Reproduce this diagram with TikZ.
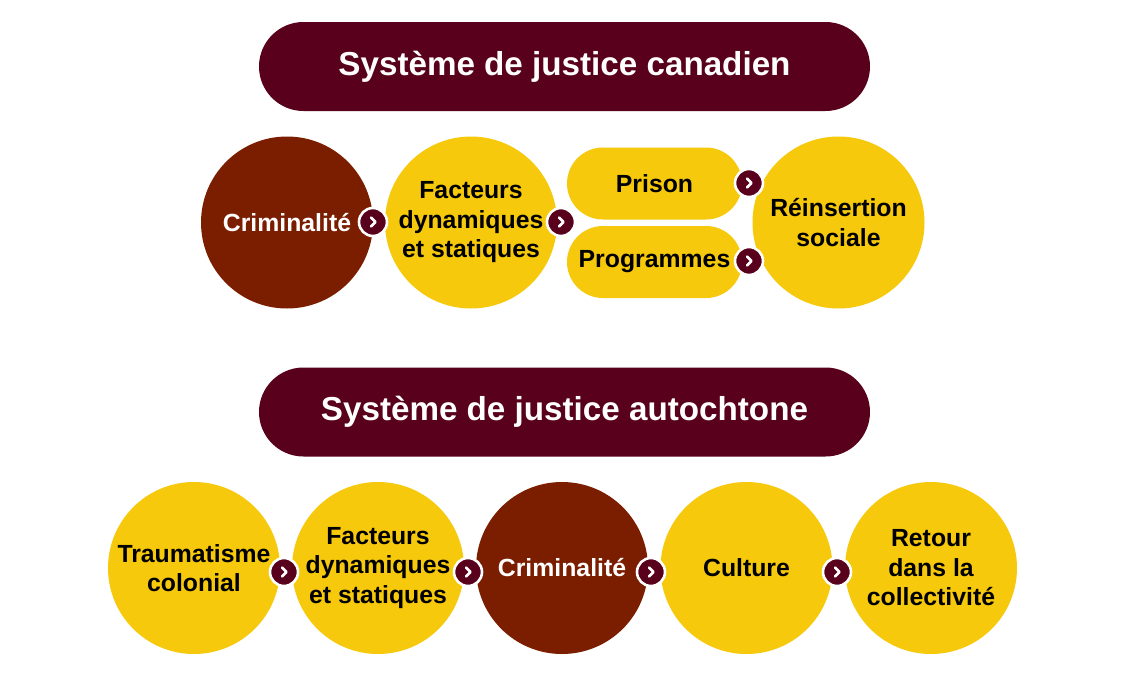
\documentclass[tikz,border=0pt]{standalone}
\usepackage{fontspec}
\setmainfont{Liberation Sans}
\usetikzlibrary{shapes.misc}
\definecolor{maroon}{RGB}{88,0,28}
\definecolor{rust}{RGB}{123,30,0}
\definecolor{gold}{RGB}{246,201,12}
\tikzset{
  titlebox/.style={rounded rectangle, fill=maroon, text=white, minimum width=611pt, minimum height=89pt, inner sep=0pt, font=\fontsize{33.2}{38}\selectfont\bfseries},
  bubble/.style={circle, minimum size=172pt, inner sep=0pt, align=center, font=\fontsize{24.8}{29.5}\selectfont\bfseries},
  goldbubble/.style={bubble, fill=gold, text=black},
  rustbubble/.style={bubble, fill=rust, text=white},
  pill/.style={rounded rectangle, fill=gold, minimum width=175pt, minimum height=72pt, inner sep=0pt, font=\fontsize{24.8}{29.5}\selectfont\bfseries},
  badge/.style={circle, fill=maroon, draw=white, line width=2.6pt, minimum size=28pt, inner sep=0pt,
    path picture={\draw[white, line width=2.8pt, line cap=round, line join=round]
      ([shift={(-2pt,4.5pt)}]path picture bounding box.center) -- ++(4.5pt,-4.5pt) -- ++(-4.5pt,-4.5pt);}}
}
\begin{document}
\begin{tikzpicture}[x=1pt,y=-1pt]
\useasboundingbox (0,0) rectangle (1125,675);
\fill[white] (0,0) rectangle (1125,675);
% top system
\node[titlebox] (t1) at (564.5,66.5) {\raisebox{-2pt}{Système de justice canadien}};
\node[rustbubble] (a1) at (287,222.5) {Criminalité};
\node[goldbubble] (a2) at (471,222.5) {Facteurs\\dynamiques\\et statiques};
\node[pill] (p1) at (654.5,183.5) {Prison};
\node[pill] (p2) at (654.5,262) {Programmes};
\node[goldbubble] (a3) at (838.5,222.5) {Réinsertion\\sociale};
\node[badge] (b1) at (373,222) {};
\node[badge] (b2) at (561,222) {};
\node[badge] (b3) at (749,183) {};
\node[badge] (b4) at (749,261) {};
% bottom system
\node[titlebox] (t2) at (564.5,412) {\raisebox{-1pt}{Système de justice autochtone}};
\node[goldbubble] (c1) at (194,568) {Traumatisme\\colonial};
\node[goldbubble] (c2) at (378,568) {Facteurs\\dynamiques\\et statiques};
\node[rustbubble] (c3) at (562,568) {Criminalité};
\node[goldbubble] (c4) at (746.5,568) {Culture};
\node[goldbubble] (c5) at (931,568) {Retour\\dans la\\collectivité};
\node[badge] (d1) at (284,572) {};
\node[badge] (d2) at (468,572) {};
\node[badge] (d3) at (651,572) {};
\node[badge] (d4) at (837,572) {};
\end{tikzpicture}
\end{document}
